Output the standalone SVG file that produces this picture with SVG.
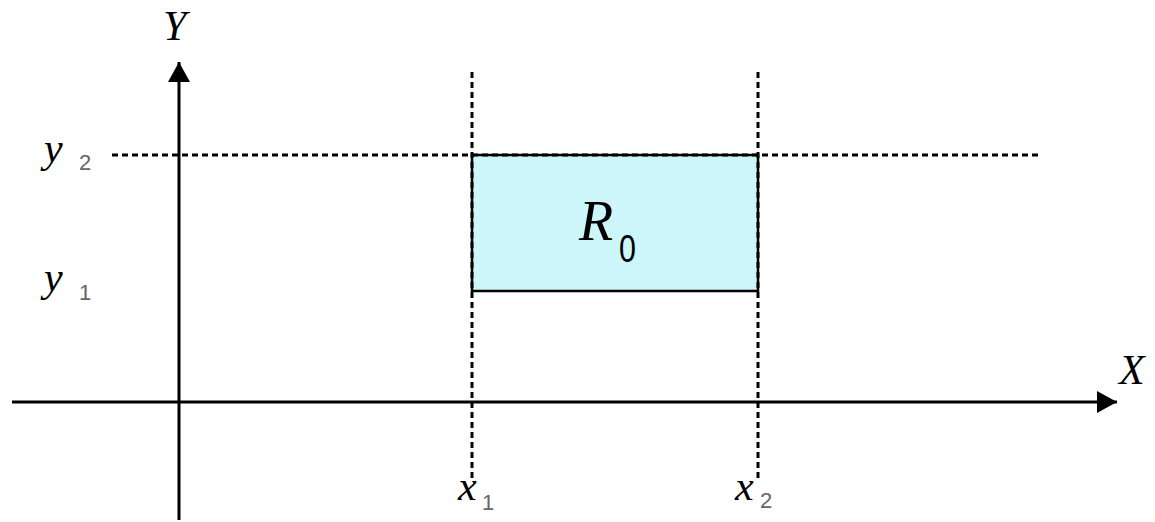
<svg xmlns="http://www.w3.org/2000/svg" width="1155" height="522" viewBox="0 0 1155 522">
<style>
.axis{stroke:#000;stroke-width:3;fill:none}
.dash{stroke:#000;stroke-width:3;stroke-dasharray:6 4;fill:none}
.lbl{font-family:"Liberation Serif",serif;font-style:italic;fill:#000}
.sub{font-family:"Liberation Sans",sans-serif;fill:#666}
</style>
<defs>
<marker id="ah" viewBox="0 0 20 22" refX="20" refY="11" markerWidth="20" markerHeight="22" orient="auto" markerUnits="userSpaceOnUse">
<path d="M0,0 L20,11 L0,22 Z" fill="#000"/>
</marker>
</defs>
<rect width="1155" height="522" fill="#fff"/>
<g id="region-R0">
<rect x="472" y="155" width="286" height="136" fill="#ccf6fa" stroke="#000" stroke-width="2.5"/>
<text class="lbl" x="579" y="240" font-size="56">R</text>
<text x="619" y="262" font-family="Liberation Sans,sans-serif" font-size="38" fill="#000" transform="translate(619,0) scale(0.8,1) translate(-619,0)">0</text>
</g>
<g id="connectors">
<line class="dash" x1="112" y1="155" x2="1040" y2="155"/>
<line class="dash" x1="472" y1="72" x2="472" y2="478"/>
<line class="dash" x1="758" y1="72" x2="758" y2="478"/>
<line class="axis" x1="179" y1="520" x2="179" y2="62" marker-end="url(#ah)"/>
<line class="axis" x1="12" y1="402" x2="1117" y2="402" marker-end="url(#ah)"/>
</g>
<g id="label-Y"><text class="lbl" x="163" y="40" font-size="42">Y</text></g>
<g id="label-X"><text class="lbl" x="1119" y="384" font-size="42">X</text></g>
<g id="label-y2"><text class="lbl" x="44" y="162" font-size="42">y</text><text class="sub" x="79" y="170" font-size="22">2</text></g>
<g id="label-y1"><text class="lbl" x="44" y="291" font-size="42">y</text><text class="sub" x="79" y="300" font-size="22">1</text></g>
<g id="label-x1"><text class="lbl" x="458" y="500" font-size="42">x</text><text class="sub" x="482" y="510" font-size="22">1</text></g>
<g id="label-x2"><text class="lbl" x="735" y="500" font-size="42">x</text><text class="sub" x="760" y="508" font-size="22">2</text></g>
</svg>
